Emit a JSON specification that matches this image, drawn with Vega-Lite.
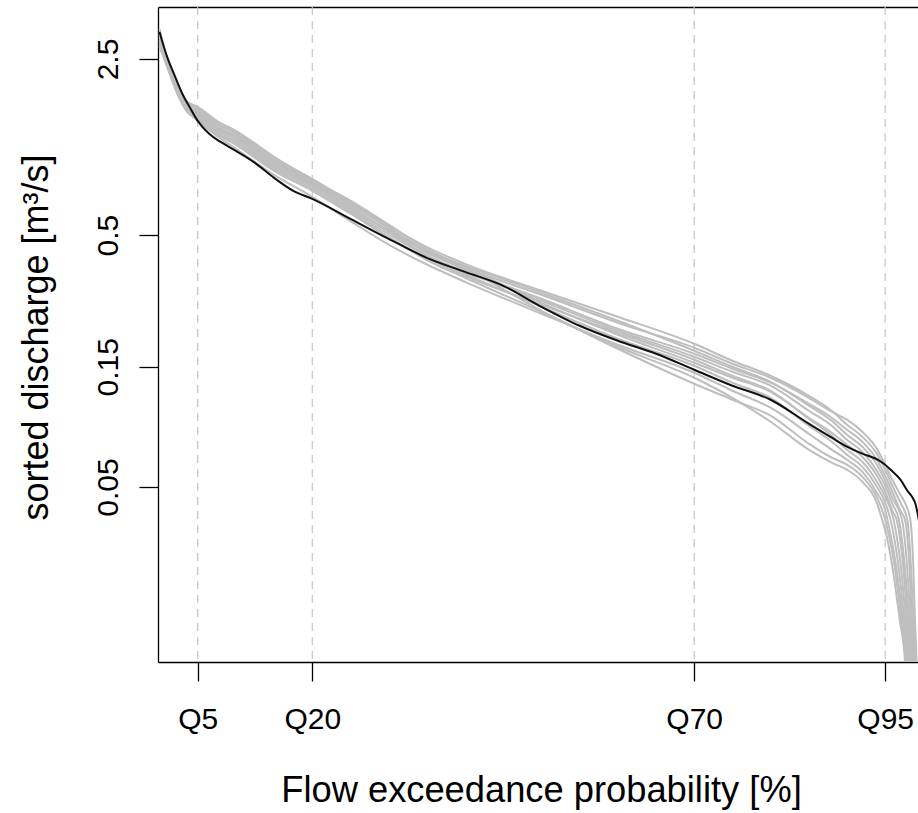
{
  "$schema": "https://vega.github.io/schema/vega-lite/v6.json",
  "width": 760,
  "height": 655,
  "autosize": {"type": "none"},
  "padding": {"left": 158, "top": 7, "right": 0, "bottom": 151},
  "background": "white",
  "config": {"view": {"stroke": null}, "font": "Liberation Sans"},
  "datasets": {
    "marks": [{"p": 5}, {"p": 20}, {"p": 70}, {"p": 95}],
    "curves": [
      {"r":"obs","p":0,"q":3.201},{"r":"obs","p":0.5,"q":2.842},{"r":"obs","p":1,"q":2.547},{"r":"obs","p":2,"q":2.141},{"r":"obs","p":3,"q":1.816},{"r":"obs","p":4,"q":1.599},{"r":"obs","p":5,"q":1.42},{"r":"obs","p":6.5,"q":1.261},{"r":"obs","p":8,"q":1.171},{"r":"obs","p":10,"q":1.079},{"r":"obs","p":12.5,"q":0.967},{"r":"obs","p":15,"q":0.843},{"r":"obs","p":17.5,"q":0.749},{"r":"obs","p":20,"q":0.696},{"r":"obs","p":25,"q":0.58},{"r":"obs","p":30,"q":0.483},{"r":"obs","p":35,"q":0.406},{"r":"obs","p":40,"q":0.357},{"r":"obs","p":45,"q":0.3145},{"r":"obs","p":50,"q":0.2596},{"r":"obs","p":55,"q":0.2182},{"r":"obs","p":60,"q":0.1903},{"r":"obs","p":65,"q":0.169},{"r":"obs","p":70,"q":0.146},{"r":"obs","p":75,"q":0.1262},{"r":"obs","p":80,"q":0.111},{"r":"obs","p":85,"q":0.0892},{"r":"obs","p":88,"q":0.0785},{"r":"obs","p":90,"q":0.0723},{"r":"obs","p":92,"q":0.0678},{"r":"obs","p":94,"q":0.0642},{"r":"obs","p":95,"q":0.0613},{"r":"obs","p":96,"q":0.0575},{"r":"obs","p":97,"q":0.0535},{"r":"obs","p":98,"q":0.0479},{"r":"obs","p":98.5,"q":0.0458},{"r":"obs","p":99,"q":0.0425},{"r":"obs","p":99.3,"q":0.0385},{"r":"obs","p":99.6,"q":0.0345},

      {"r":"s1","p":0,"q":3.115},{"r":"s1","p":1,"q":2.433},{"r":"s1","p":2,"q":2.028},{"r":"s1","p":3.5,"q":1.643},{"r":"s1","p":5,"q":1.528},{"r":"s1","p":7.5,"q":1.344},{"r":"s1","p":10,"q":1.227},{"r":"s1","p":15,"q":0.9673},{"r":"s1","p":20,"q":0.8057},{"r":"s1","p":25,"q":0.643},{"r":"s1","p":30,"q":0.522},{"r":"s1","p":35,"q":0.43},{"r":"s1","p":40,"q":0.3707},{"r":"s1","p":50,"q":0.2897},{"r":"s1","p":60,"q":0.2243},{"r":"s1","p":70,"q":0.1785},{"r":"s1","p":75,"q":0.1543},{"r":"s1","p":80,"q":0.1357},{"r":"s1","p":85,"q":0.113},{"r":"s1","p":88,"q":0.09947},{"r":"s1","p":90,"q":0.09248},{"r":"s1","p":92,"q":0.08288},{"r":"s1","p":94,"q":0.07031},{"r":"s1","p":95,"q":0.06131},{"r":"s1","p":96,"q":0.05297},{"r":"s1","p":97,"q":0.04661},{"r":"s1","p":97.7,"q":0.04254},{"r":"s1","p":98.3,"q":0.0371},{"r":"s1","p":98.7,"q":0.0235},{"r":"s1","p":98.9,"q":0.01488},{"r":"s1","p":99.1,"q":0.01014},{"r":"s1","p":99.25,"q":0.005},

      {"r":"s2","p":0,"q":2.975},{"r":"s2","p":1,"q":2.389},{"r":"s2","p":2,"q":1.991},{"r":"s2","p":3.5,"q":1.628},{"r":"s2","p":5,"q":1.556},{"r":"s2","p":7.5,"q":1.382},{"r":"s2","p":10,"q":1.273},{"r":"s2","p":15,"q":1.012},{"r":"s2","p":20,"q":0.8357},{"r":"s2","p":25,"q":0.675},{"r":"s2","p":30,"q":0.545},{"r":"s2","p":35,"q":0.448},{"r":"s2","p":40,"q":0.3845},{"r":"s2","p":50,"q":0.3004},{"r":"s2","p":60,"q":0.237},{"r":"s2","p":70,"q":0.1851},{"r":"s2","p":75,"q":0.1585},{"r":"s2","p":80,"q":0.1382},{"r":"s2","p":85,"q":0.1151},{"r":"s2","p":88,"q":0.1004},{"r":"s2","p":90,"q":0.08835},{"r":"s2","p":92,"q":0.07919},{"r":"s2","p":94,"q":0.06717},{"r":"s2","p":95,"q":0.05857},{"r":"s2","p":96,"q":0.05015},{"r":"s2","p":97,"q":0.04333},{"r":"s2","p":97.9,"q":0.0371},{"r":"s2","p":98.4,"q":0.0235},{"r":"s2","p":98.7,"q":0.01488},{"r":"s2","p":98.95,"q":0.01014},{"r":"s2","p":99.1,"q":0.005},

      {"r":"s3","p":0,"q":3.201},{"r":"s3","p":1,"q":2.478},{"r":"s3","p":2,"q":2.065},{"r":"s3","p":3.5,"q":1.674},{"r":"s3","p":5,"q":1.584},{"r":"s3","p":7.5,"q":1.394},{"r":"s3","p":10,"q":1.261},{"r":"s3","p":15,"q":0.9941},{"r":"s3","p":20,"q":0.8206},{"r":"s3","p":25,"q":0.665},{"r":"s3","p":30,"q":0.535},{"r":"s3","p":35,"q":0.432},{"r":"s3","p":40,"q":0.364},{"r":"s3","p":50,"q":0.2793},{"r":"s3","p":60,"q":0.2123},{"r":"s3","p":70,"q":0.169},{"r":"s3","p":75,"q":0.1474},{"r":"s3","p":80,"q":0.1297},{"r":"s3","p":85,"q":0.107},{"r":"s3","p":88,"q":0.09417},{"r":"s3","p":90,"q":0.08441},{"r":"s3","p":92,"q":0.07564},{"r":"s3","p":94,"q":0.06359},{"r":"s3","p":95,"q":0.05545},{"r":"s3","p":96,"q":0.04747},{"r":"s3","p":97,"q":0.04027},{"r":"s3","p":97.6,"q":0.0371},{"r":"s3","p":98.2,"q":0.0235},{"r":"s3","p":98.5,"q":0.01488},{"r":"s3","p":98.8,"q":0.01014},{"r":"s3","p":98.95,"q":0.005},

      {"r":"s4","p":0,"q":3.058},{"r":"s4","p":1,"q":2.411},{"r":"s4","p":2,"q":1.991},{"r":"s4","p":3.5,"q":1.614},{"r":"s4","p":5,"q":1.5},{"r":"s4","p":7.5,"q":1.32},{"r":"s4","p":10,"q":1.205},{"r":"s4","p":15,"q":0.9498},{"r":"s4","p":20,"q":0.7912},{"r":"s4","p":25,"q":0.64},{"r":"s4","p":30,"q":0.515},{"r":"s4","p":35,"q":0.432},{"r":"s4","p":40,"q":0.3775},{"r":"s4","p":50,"q":0.295},{"r":"s4","p":60,"q":0.2284},{"r":"s4","p":70,"q":0.1737},{"r":"s4","p":75,"q":0.1501},{"r":"s4","p":80,"q":0.1308},{"r":"s4","p":85,"q":0.1051},{"r":"s4","p":88,"q":0.09164},{"r":"s4","p":90,"q":0.08064},{"r":"s4","p":92,"q":0.07227},{"r":"s4","p":94,"q":0.06075},{"r":"s4","p":95,"q":0.05297},{"r":"s4","p":96,"q":0.04494},{"r":"s4","p":97.2,"q":0.0371},{"r":"s4","p":97.9,"q":0.0235},{"r":"s4","p":98.3,"q":0.01488},{"r":"s4","p":98.65,"q":0.01014},{"r":"s4","p":98.8,"q":0.005},

      {"r":"s5","p":0,"q":2.868},{"r":"s5","p":1,"q":2.346},{"r":"s5","p":2,"q":1.955},{"r":"s5","p":3.5,"q":1.584},{"r":"s5","p":5,"q":1.473},{"r":"s5","p":7.5,"q":1.296},{"r":"s5","p":10,"q":1.182},{"r":"s5","p":15,"q":0.9325},{"r":"s5","p":20,"q":0.7768},{"r":"s5","p":25,"q":0.628},{"r":"s5","p":30,"q":0.503},{"r":"s5","p":35,"q":0.415},{"r":"s5","p":40,"q":0.3574},{"r":"s5","p":50,"q":0.2742},{"r":"s5","p":60,"q":0.2085},{"r":"s5","p":70,"q":0.1644},{"r":"s5","p":75,"q":0.1434},{"r":"s5","p":80,"q":0.1262},{"r":"s5","p":85,"q":0.1004},{"r":"s5","p":88,"q":0.08755},{"r":"s5","p":90,"q":0.07704},{"r":"s5","p":92,"q":0.06904},{"r":"s5","p":94,"q":0.05751},{"r":"s5","p":95,"q":0.05061},{"r":"s5","p":96,"q":0.04254},{"r":"s5","p":96.8,"q":0.0371},{"r":"s5","p":97.6,"q":0.0235},{"r":"s5","p":98.1,"q":0.01488},{"r":"s5","p":98.5,"q":0.01014},{"r":"s5","p":98.65,"q":0.005},

      {"r":"s6","p":0,"q":3.289},{"r":"s6","p":1,"q":2.5},{"r":"s6","p":2,"q":2.084},{"r":"s6","p":3.5,"q":1.704},{"r":"s6","p":5,"q":1.614},{"r":"s6","p":7.5,"q":1.42},{"r":"s6","p":10,"q":1.296},{"r":"s6","p":15,"q":1.022},{"r":"s6","p":20,"q":0.8281},{"r":"s6","p":25,"q":0.685},{"r":"s6","p":30,"q":0.55},{"r":"s6","p":35,"q":0.44},{"r":"s6","p":40,"q":0.3741},{"r":"s6","p":50,"q":0.2692},{"r":"s6","p":60,"q":0.201},{"r":"s6","p":70,"q":0.1557},{"r":"s6","p":75,"q":0.1357},{"r":"s6","p":80,"q":0.1194},{"r":"s6","p":85,"q":0.09417},{"r":"s6","p":88,"q":0.08213},{"r":"s6","p":90,"q":0.0736},{"r":"s6","p":92,"q":0.06596},{"r":"s6","p":94,"q":0.05494},{"r":"s6","p":95,"q":0.04791},{"r":"s6","p":96,"q":0.0399},{"r":"s6","p":96.5,"q":0.0371},{"r":"s6","p":97.4,"q":0.0235},{"r":"s6","p":97.9,"q":0.01488},{"r":"s6","p":98.35,"q":0.01014},{"r":"s6","p":98.5,"q":0.005},

      {"r":"s7","p":0,"q":2.921},{"r":"s7","p":1,"q":2.367},{"r":"s7","p":2,"q":1.937},{"r":"s7","p":3.5,"q":1.556},{"r":"s7","p":5,"q":1.446},{"r":"s7","p":7.5,"q":1.261},{"r":"s7","p":10,"q":1.14},{"r":"s7","p":15,"q":0.8991},{"r":"s7","p":20,"q":0.7489},{"r":"s7","p":25,"q":0.608},{"r":"s7","p":30,"q":0.49},{"r":"s7","p":35,"q":0.405},{"r":"s7","p":40,"q":0.3446},{"r":"s7","p":50,"q":0.2644},{"r":"s7","p":60,"q":0.2047},{"r":"s7","p":70,"q":0.16},{"r":"s7","p":75,"q":0.1382},{"r":"s7","p":80,"q":0.1205},{"r":"s7","p":85,"q":0.09331},{"r":"s7","p":88,"q":0.07991},{"r":"s7","p":90,"q":0.07031},{"r":"s7","p":92,"q":0.06301},{"r":"s7","p":94,"q":0.05202},{"r":"s7","p":95,"q":0.04577},{"r":"s7","p":96.1,"q":0.0371},{"r":"s7","p":97.1,"q":0.0235},{"r":"s7","p":97.7,"q":0.01488},{"r":"s7","p":98.2,"q":0.01014},{"r":"s7","p":98.35,"q":0.005},

      {"r":"s8","p":0,"q":3.031},{"r":"s8","p":1,"q":2.456},{"r":"s8","p":2,"q":2.046},{"r":"s8","p":3.5,"q":1.658},{"r":"s8","p":5,"q":1.514},{"r":"s8","p":7.5,"q":1.332},{"r":"s8","p":10,"q":1.216},{"r":"s8","p":15,"q":0.9761},{"r":"s8","p":20,"q":0.7984},{"r":"s8","p":25,"q":0.648},{"r":"s8","p":30,"q":0.515},{"r":"s8","p":35,"q":0.415},{"r":"s8","p":40,"q":0.3509},{"r":"s8","p":50,"q":0.2596},{"r":"s8","p":60,"q":0.1938},{"r":"s8","p":70,"q":0.1515},{"r":"s8","p":75,"q":0.1297},{"r":"s8","p":80,"q":0.113},{"r":"s8","p":85,"q":0.08755},{"r":"s8","p":88,"q":0.07564},{"r":"s8","p":90,"q":0.06717},{"r":"s8","p":92,"q":0.0602},{"r":"s8","p":94,"q":0.0497},{"r":"s8","p":95,"q":0.04333},{"r":"s8","p":95.7,"q":0.0371},{"r":"s8","p":96.8,"q":0.0235},{"r":"s8","p":97.5,"q":0.01488},{"r":"s8","p":98.05,"q":0.01014},{"r":"s8","p":98.2,"q":0.005},

      {"r":"s9","p":0,"q":2.816},{"r":"s9","p":1,"q":2.325},{"r":"s9","p":2,"q":1.92},{"r":"s9","p":3.5,"q":1.57},{"r":"s9","p":5,"q":1.42},{"r":"s9","p":7.5,"q":1.238},{"r":"s9","p":10,"q":1.099},{"r":"s9","p":15,"q":0.8668},{"r":"s9","p":20,"q":0.709},{"r":"s9","p":25,"q":0.568},{"r":"s9","p":30,"q":0.458},{"r":"s9","p":35,"q":0.382},{"r":"s9","p":40,"q":0.3262},{"r":"s9","p":50,"q":0.2435},{"r":"s9","p":60,"q":0.1835},{"r":"s9","p":70,"q":0.1421},{"r":"s9","p":75,"q":0.1205},{"r":"s9","p":80,"q":0.1032},{"r":"s9","p":85,"q":0.08138},{"r":"s9","p":88,"q":0.07031},{"r":"s9","p":90,"q":0.06417},{"r":"s9","p":92,"q":0.05751},{"r":"s9","p":94,"q":0.04704},{"r":"s9","p":95,"q":0.04064},{"r":"s9","p":95.3,"q":0.0371},{"r":"s9","p":96.5,"q":0.0235},{"r":"s9","p":97.3,"q":0.01488},{"r":"s9","p":97.9,"q":0.01014},{"r":"s9","p":98.05,"q":0.005},

      {"r":"s10","p":0,"q":3.143},{"r":"s10","p":1,"q":2.478},{"r":"s10","p":2,"q":2.028},{"r":"s10","p":3.5,"q":1.643},{"r":"s10","p":5,"q":1.542},{"r":"s10","p":7.5,"q":1.357},{"r":"s10","p":10,"q":1.238},{"r":"s10","p":15,"q":0.9851},{"r":"s10","p":20,"q":0.8131},{"r":"s10","p":25,"q":0.66},{"r":"s10","p":30,"q":0.532},{"r":"s10","p":35,"q":0.425},{"r":"s10","p":40,"q":0.3673},{"r":"s10","p":50,"q":0.2503},{"r":"s10","p":60,"q":0.1769},{"r":"s10","p":70,"q":0.1285},{"r":"s10","p":75,"q":0.111},{"r":"s10","p":80,"q":0.0959},{"r":"s10","p":85,"q":0.07427},{"r":"s10","p":88,"q":0.06536},{"r":"s10","p":90,"q":0.06131},{"r":"s10","p":92,"q":0.05494},{"r":"s10","p":94,"q":0.04494},{"r":"s10","p":95,"q":0.0371},{"r":"s10","p":96.3,"q":0.0235},{"r":"s10","p":97.1,"q":0.01488},{"r":"s10","p":97.75,"q":0.01014},{"r":"s10","p":97.9,"q":0.005},

      {"r":"s11","p":0,"q":2.791},{"r":"s11","p":1,"q":2.367},{"r":"s11","p":2,"q":1.973},{"r":"s11","p":3.5,"q":1.599},{"r":"s11","p":5,"q":1.459},{"r":"s11","p":7.5,"q":1.273},{"r":"s11","p":10,"q":1.161},{"r":"s11","p":15,"q":0.9157},{"r":"s11","p":20,"q":0.7628},{"r":"s11","p":25,"q":0.618},{"r":"s11","p":30,"q":0.49},{"r":"s11","p":35,"q":0.398},{"r":"s11","p":40,"q":0.3384},{"r":"s11","p":50,"q":0.248},{"r":"s11","p":60,"q":0.1801},{"r":"s11","p":70,"q":0.1357},{"r":"s11","p":75,"q":0.113},{"r":"s11","p":80,"q":0.09081},{"r":"s11","p":85,"q":0.07031},{"r":"s11","p":88,"q":0.06244},{"r":"s11","p":90,"q":0.05857},{"r":"s11","p":92,"q":0.05249},{"r":"s11","p":94,"q":0.04254},{"r":"s11","p":94.6,"q":0.0371},{"r":"s11","p":95,"q":0.03386},{"r":"s11","p":96,"q":0.0235},{"r":"s11","p":96.9,"q":0.01488},{"r":"s11","p":97.6,"q":0.01014},{"r":"s11","p":97.75,"q":0.005}
    ]
  },
  "resolve": {"axis": {"x": "independent", "y": "independent"}},
  "layer": [
    {
      "data": {"name": "marks"},
      "mark": {"type": "rule", "color": "#c4c4c4", "strokeWidth": 1.2, "strokeDash": [8, 6]},
      "encoding": {
        "x": {"field": "p", "type": "quantitative", "scale": {"domain": [-0.2, 99.3], "nice": false, "zero": false}, "axis": null}
      }
    },
    {
      "data": {"name": "curves"},
      "transform": [{"filter": "datum.r !== 'obs'"}],
      "mark": {"type": "line", "color": "#bebebe", "strokeWidth": 2, "clip": true, "interpolate": "monotone"},
      "encoding": {
        "x": {"field": "p", "type": "quantitative", "scale": {"domain": [-0.2, 99.3], "nice": false, "zero": false},
          "axis": {"values": [5, 20, 70, 95], "labelExpr": "'Q' + datum.value", "title": "Flow exceedance probability [%]", "grid": false,
            "domainColor": "#000", "domainWidth": 1.3, "tickColor": "#000", "tickWidth": 1.3, "tickSize": 19,
            "labelFontSize": 30, "labelColor": "#000", "labelPadding": 23, "labelFont": "Liberation Sans", "labelFlush": false, "labelOverlap": false,
            "titleFont": "Liberation Sans", "titleFontSize": 36.3, "titleFontWeight": "normal", "titleColor": "#000",
            "titleX": 383, "titleY": 139, "titleBaseline": "alphabetic", "titleAlign": "center"}},
        "y": {"field": "q", "type": "quantitative", "scale": {"type": "log", "domain": [0.0101, 4.02], "nice": false},
          "axis": {"orient": "left", "values": [0.05, 0.15, 0.5, 2.5], "format": "~g", "title": "sorted discharge [m³/s]", "grid": false,
            "domainColor": "#000", "domainWidth": 1.3, "tickColor": "#000", "tickWidth": 1.3, "tickSize": 19,
            "labelFontSize": 30, "labelColor": "#000", "labelPadding": 22, "labelFont": "Liberation Sans", "labelAngle": -90, "labelAlign": "center", "labelBaseline": "alphabetic", "labelFlush": false, "labelOverlap": false,
            "titleFont": "Liberation Sans", "titleFontSize": 36, "titleFontWeight": "normal", "titleColor": "#000", "titleAngle": -90,
            "titleX": -111, "titleY": 330, "titleBaseline": "alphabetic", "titleAlign": "center"}},
        "detail": {"field": "r", "type": "nominal"}
      }
    },
    {
      "data": {"name": "curves"},
      "transform": [{"filter": "datum.r === 'obs'"}],
      "mark": {"type": "line", "color": "#111111", "strokeWidth": 2, "clip": true, "interpolate": "monotone"},
      "encoding": {
        "x": {"field": "p", "type": "quantitative", "scale": {"domain": [-0.2, 99.3], "nice": false, "zero": false},
          "axis": {"orient": "top", "labels": false, "ticks": false, "title": null, "grid": false, "domainColor": "#000", "domainWidth": 1.3}},
        "y": {"field": "q", "type": "quantitative", "scale": {"type": "log", "domain": [0.0101, 4.02], "nice": false}, "axis": null}
      }
    }
  ]
}
